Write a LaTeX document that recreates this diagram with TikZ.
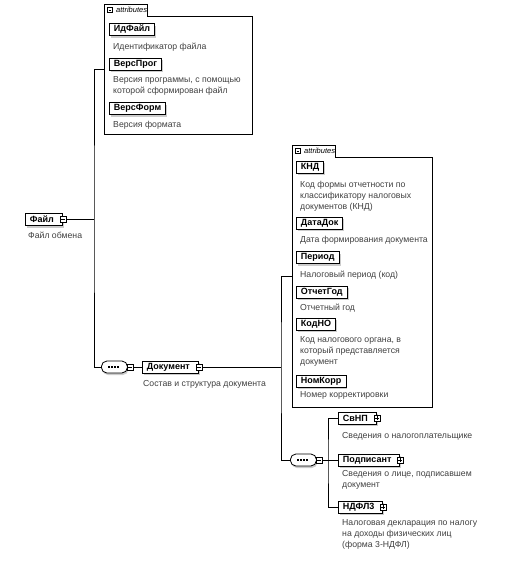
\documentclass[tikz,border=0pt]{standalone}
\usepackage{fontspec}
\setmainfont{Liberation Sans}
\usetikzlibrary{shadows}
\usetikzlibrary{fit}

\newcommand{\signminus}[1]{\draw ([xshift=1.3pt]#1.west) -- ([xshift=-1.3pt]#1.east);}
\newcommand{\signplus}[1]{\signminus{#1}\draw ([yshift=1.3pt]#1.south) -- ([yshift=-1.3pt]#1.north);}

\begin{document}
\begin{tikzpicture}[x=1pt, y=-1pt]
    \tikzstyle{elem} = [draw, line width=0.9pt, fill=white, anchor=west, inner xsep=4.5pt, inner ysep=0pt, minimum height=12pt, font=\fontsize{9}{10}\selectfont\bfseries, drop shadow={shadow xshift=1.5pt, shadow yshift=-2pt, fill=black!40}]
    \tikzstyle{comp} = [elem, execute at end node=\hspace{4pt}]
    \tikzstyle{desc} = [anchor=north west, align=left, inner sep=0pt, text=black!75, font=\fontsize{8.7}{11}\selectfont]
    \tikzstyle{sign} = [draw, fill=white, line width=0.5pt, minimum size=6pt, inner sep=0pt]
    \tikzstyle{tab} = [anchor=north west, inner xsep=0pt, inner ysep=0pt, minimum height=12pt, font=\fontsize{7.5}{8}\selectfont\itshape]
    \tikzstyle{grp} = [anchor=north west, inner sep=0pt]
    \tikzstyle{seq} = [draw, fill=white, line width=0.8pt, anchor=west, rounded corners=5.5pt, minimum width=26pt, minimum height=12pt, inner sep=0pt, drop shadow={shadow xshift=1pt, shadow yshift=-2pt, fill=black!40}]
    \tikzstyle{wire} = [line width=0.7pt]
    \useasboundingbox (0,0) rectangle (532,562);

    % attributes of Файл
    \node[tab] (attrTab1) at (104,4) {\hspace{12pt}attributes\hspace{3pt}};
    \node[grp, minimum width=148pt, minimum height=118pt] (attrBox1) at (104,16) {};
    \draw[wire] (attrBox1.south west) |- (attrTab1.north east) -- (attrTab1.south east) -| (attrBox1.south east) -- cycle;
    \node[sign, minimum size=5pt] (attrTab1S) at ([xshift=6pt]attrTab1.west) {};
    \signminus{attrTab1S}
    \node[fit=(attrTab1)(attrBox1), inner sep=0pt] (attr1) {};

    \node[elem] (idFajl) at (109,29.5) {ИдФайл};
    \node[desc] (idFajlD) at (113,42.5) {Идентификатор файла};
    \node[elem] (versProg) at (109,64) {ВерсПрог};
    \node[desc] (versProgD) at (113,76.5) {Версия программы, с помощью\\которой сформирован файл};
    \node[elem] (versForm) at (109,108.5) {ВерсФорм};
    \node[desc] (versFormD) at (113,120.5) {Версия формата};

    % root
    \node[comp] (fajl) at (25,219.5) {Файл};
    \node[sign] (fajlS) at (fajl.east) {};
    \signminus{fajlS}
    \node[desc] (fajlD) at (28,231.5) {Файл обмена};
    \coordinate (spine1) at (94,219.5);

    % sequence -> Документ
    \node[seq] (seq1) at (101,367) {};
    \draw[line width=1.4pt, dash pattern=on 1.8pt off 1.2pt] ([xshift=-6pt]seq1.center) -- ([xshift=5pt]seq1.center);
    \node[sign] (seq1S) at ([xshift=2pt]seq1.east) {};
    \signminus{seq1S}
    \node[comp] (dok) at (142,367) {Документ};
    \node[sign] (dokS) at (dok.east) {};
    \signminus{dokS}
    \node[desc] (dokD) at (143,380.5) {Состав и структура документа};
    \coordinate (spine2) at (281,367);

    % attributes of Документ
    \node[tab] (attrTab2) at (292,145) {\hspace{12pt}attributes\hspace{3pt}};
    \node[grp, minimum width=140pt, minimum height=250pt] (attrBox2) at (292,157) {};
    \draw[wire] (attrBox2.south west) |- (attrTab2.north east) -- (attrTab2.south east) -| (attrBox2.south east) -- cycle;
    \node[sign, minimum size=5pt] (attrTab2S) at ([xshift=6pt]attrTab2.west) {};
    \signminus{attrTab2S}
    \node[fit=(attrTab2)(attrBox2), inner sep=0pt] (attr2) {};

    \node[elem] (knd) at (296,167) {КНД};
    \node[desc] (kndD) at (300,180.5) {Код формы отчетности по\\классификатору налоговых\\документов (КНД)};
    \node[elem] (dataDok) at (296,223) {ДатаДок};
    \node[desc] (dataDokD) at (300,235.5) {Дата формирования документа};
    \node[elem] (period) at (296,257.5) {Период};
    \node[desc] (periodD) at (300,270.5) {Налоговый период (код)};
    \node[elem] (otchGod) at (296,292) {ОтчетГод};
    \node[desc] (otchGodD) at (300,303.5) {Отчетный год};
    \node[elem] (kodNO) at (296,324) {КодНО};
    \node[desc] (kodNOD) at (300,336.5) {Код налогового органа, в\\который представляется\\документ};
    \node[elem] (nomKorr) at (296,381) {НомКорр};
    \node[desc] (nomKorrD) at (300,391.5) {Номер корректировки};

    % sequence -> children of Документ
    \node[seq] (seq2) at (290,460) {};
    \draw[line width=1.4pt, dash pattern=on 1.8pt off 1.2pt] ([xshift=-6pt]seq2.center) -- ([xshift=5pt]seq2.center);
    \node[sign] (seq2S) at ([xshift=2pt]seq2.east) {};
    \signminus{seq2S}
    \coordinate (spine3) at (328,460);

    \node[comp] (svnp) at (338,418) {СвНП};
    \node[sign] (svnpS) at (svnp.east) {};
    \signplus{svnpS}
    \node[desc] (svnpD) at (342,432.5) {Сведения о налогоплательщике};
    \node[comp] (podp) at (338,460) {Подписант};
    \node[sign] (podpS) at (podp.east) {};
    \signplus{podpS}
    \node[desc] (podpD) at (342,470.5) {Сведения о лице, подписавшем\\документ};
    \node[comp] (ndfl) at (338,507) {НДФЛ3};
    \node[sign] (ndflS) at (ndfl.east) {};
    \signplus{ndflS}
    \node[desc] (ndflD) at (342,519.5) {Налоговая декларация по налогу\\на доходы физических лиц\\(форма 3-НДФЛ)};

    % connectors
    \draw[wire] (fajlS.east) -- (spine1);
    \draw[wire] (attr1.west) -| (spine1) |- (seq1.west);
    \draw[wire] (seq1S.east) -- (dok.west);
    \draw[wire] (dokS.east) -- (spine2);
    \draw[wire] (attr2.west) -| (spine2) |- (seq2.west);
    \draw[wire] (seq2S.east) -- (podp.west);
    \draw[wire] (svnp.west) -| (spine3) |- (ndfl.west);
\end{tikzpicture}
\end{document}
